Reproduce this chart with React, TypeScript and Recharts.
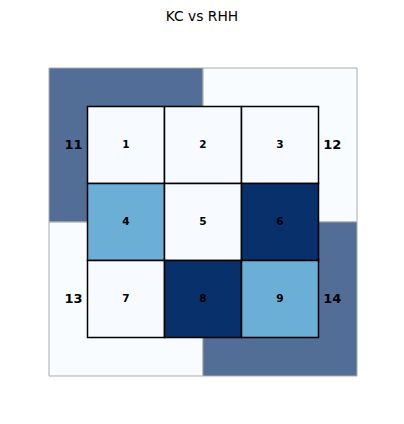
import React from 'react';
import { ScatterChart, XAxis, YAxis, ReferenceArea, Scatter, LabelList } from 'recharts';

// Outer quadrants (zones 11-14)
const quadLabels = ['11', '12', '13', '14'];
const quadX1 = [-0.5, 1.5, -0.5, 1.5];
const quadX2 = [1.5, 3.5, 1.5, 3.5];
const quadY1 = [1.5, 1.5, -0.5, -0.5];
const quadY2 = [3.5, 3.5, 1.5, 1.5];
const quadColors = ['#08306b', '#f7fbff', '#f7fbff', '#08306b'];
const quadLabelX = [-0.18, 3.18, -0.18, 3.18];
const quadLabelY = [2.5, 2.5, 0.5, 0.5];

// Inner 3x3 zones (1-9)
const zoneLabels = ['1', '2', '3', '4', '5', '6', '7', '8', '9'];
const zoneCol = [0, 1, 2, 0, 1, 2, 0, 1, 2];
const zoneRow = [2, 2, 2, 1, 1, 1, 0, 0, 0];
const zoneColors = ['#f7fbff', '#f7fbff', '#f7fbff', '#6baed6', '#f7fbff', '#08306b', '#f7fbff', '#08306b', '#6baed6'];

const title = 'KC vs RHH';

const outerLabelData = quadLabels.map((l, i) => ({ x: quadLabelX[i], y: quadLabelY[i], label: l }));

export default function App() {
  return (
    <div style={{ position: 'absolute', left: 0, top: 0, width: 404, height: 424, background: '#fff' }}>
      <div
        style={{
          position: 'absolute',
          left: 0,
          top: 8,
          width: 404,
          textAlign: 'center',
          fontFamily: 'DejaVu Sans',
          fontSize: 13.8,
          color: '#000',
          lineHeight: '16px',
        }}
      >
        {title}
      </div>
      <ScatterChart width={404} height={424} margin={{ left: 49, right: 47, top: 68, bottom: 48 }}>
        <XAxis type="number" dataKey="x" domain={[-0.5, 3.5]} hide allowDataOverflow />
        <YAxis type="number" dataKey="y" domain={[-0.5, 3.5]} hide allowDataOverflow />
        {quadLabels.map((l, i) => (
          <ReferenceArea
            key={'q' + l}
            x1={quadX1[i]}
            x2={quadX2[i]}
            y1={quadY1[i]}
            y2={quadY2[i]}
            fill={quadColors[i]}
            fillOpacity={0.7}
            stroke="#aaaaaa"
            strokeWidth={1}
            strokeOpacity={1}
            ifOverflow="visible"
          />
        ))}
        {zoneLabels.map((l, i) => (
          <ReferenceArea
            key={'z' + l}
            x1={zoneCol[i]}
            x2={zoneCol[i] + 1}
            y1={zoneRow[i]}
            y2={zoneRow[i] + 1}
            fill={zoneColors[i]}
            fillOpacity={1}
            stroke="#000000"
            strokeWidth={1.5}
            strokeOpacity={1}
            ifOverflow="visible"
            label={{
              value: l,
              position: 'center',
              fill: '#000',
              fontSize: 10.5,
              fontWeight: 'bold',
              fontFamily: 'DejaVu Sans',
              dy: -1,
            }}
          />
        ))}
        <Scatter data={outerLabelData} isAnimationActive={false} shape={() => <g />}>
          <LabelList
            dataKey="label"
            position="center"
            fill="#000"
            fontSize={13}
            fontWeight="bold"
            fontFamily="DejaVu Sans"
            dy={-1}
          />
        </Scatter>
      </ScatterChart>
    </div>
  );
}
